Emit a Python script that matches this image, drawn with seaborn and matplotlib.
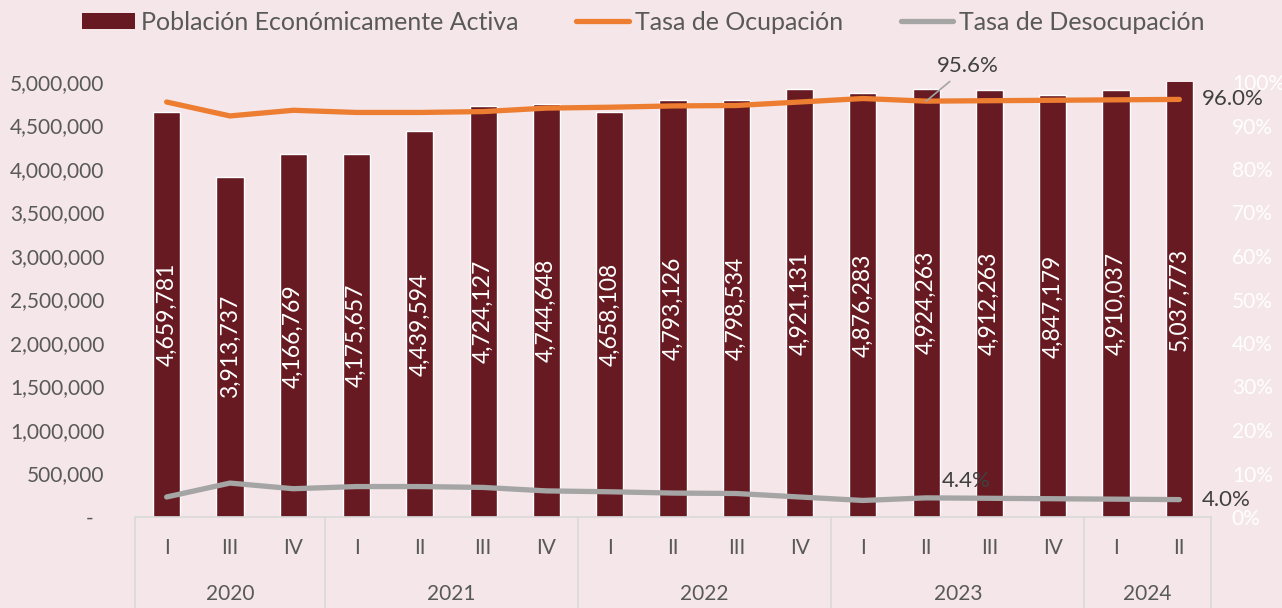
import matplotlib
matplotlib.use("Agg")
from matplotlib import pyplot as plt
from matplotlib import transforms
from matplotlib.lines import Line2D
from matplotlib.patches import Patch
import numpy as np
import pandas as pd
import seaborn as sns


YEARS = ["2020", "2021", "2022", "2023", "2024"]
QUARTERS = [
    ["I", "III", "IV"],
    ["I", "II", "III", "IV"],
    ["I", "II", "III", "IV"],
    ["I", "II", "III", "IV"],
    ["I", "II"],
]
PEA = [4659781, 3913737, 4166769, 4175657, 4439594, 4724127, 4744648, 4658108,
       4793126, 4798534, 4921131, 4876283, 4924263, 4912263, 4847179, 4910037,
       5037773]
TASA_OCUPACION = [95.4, 92.2, 93.5, 93.0, 93.0, 93.2, 94.0, 94.2, 94.5, 94.6,
                  95.4, 96.2, 95.6, 95.7, 95.8, 95.9, 96.0]
TASA_DESOCUPACION = [round(100 - v, 1) for v in TASA_OCUPACION]

BAR_COLOR = "#671a21"
ORANGE = "#ed7d31"
GRAY = "#a5a5a5"
TEXT = "#595959"
LABEL = "#404040"
BG = "#f4e6e9"

sns.set_style("white")
plt.rcParams["font.family"] = ["Lato", "DejaVu Sans"]

labels = [f"{q}-{y}" for y, qs in zip(YEARS, QUARTERS) for q in qs]
df = pd.DataFrame({
    "periodo": labels,
    "pea": PEA,
    "ocup": np.array(TASA_OCUPACION) / 100,
    "desocup": np.array(TASA_DESOCUPACION) / 100,
})
df["pos"] = np.arange(len(df))

W, H = 1282, 608
fig = plt.figure(figsize=(W / 100, H / 100), dpi=100, facecolor=BG)
ax = fig.add_axes([135 / W, 91 / H, 1076 / W, 435 / H])
ax.set_facecolor("none")

sns.barplot(data=df, x="periodo", y="pea", color=BAR_COLOR, width=0.43,
            saturation=1, ax=ax, zorder=2)
ax.set_xlim(-0.5, len(df) - 0.5)
ax.set_ylim(0, 5_000_000)
ax.set_yticks(np.arange(0, 5_000_001, 500_000))
ax.set_yticklabels(["-  "] + [f"{v:,.0f}" for v in np.arange(500_000, 5_000_001, 500_000)])
ax.tick_params(axis="y", length=0, pad=22, labelsize=15, labelcolor=TEXT)
ax.set_xticks([])
ax.set_xlabel("")
ax.set_ylabel("")
for s in ax.spines.values():
    s.set_visible(False)

ax.bar_label(ax.containers[0], labels=[f"{v:,}" for v in PEA], label_type="center",
             rotation=90, color="white", fontsize=16.5)

# two-level category axis
trans = transforms.blended_transform_factory(ax.transData, ax.transAxes)
line_kw = dict(color="#d9d9d9", lw=1.2, transform=trans, clip_on=False)
ax.plot([-0.5, len(df) - 0.5], [0, 0], **line_kw)
start = 0
bounds = [-0.5]
for y, qs in zip(YEARS, QUARTERS):
    for i, q in enumerate(qs):
        ax.text(start + i, -0.071, q, transform=trans, ha="center", va="center",
                fontsize=15, color=TEXT)
    ax.text(start + (len(qs) - 1) / 2, -0.177, y, transform=trans, ha="center",
            va="center", fontsize=15, color=TEXT)
    start += len(qs)
    bounds.append(start - 0.5)
for b in bounds:
    ax.plot([b, b], [0, -0.21], **line_kw)

# rates on secondary axis
ax2 = ax.twinx()
ax2.set_facecolor("none")
sns.lineplot(data=df, x="pos", y="ocup", color=ORANGE, lw=3.8, ax=ax2,
             sort=False, solid_capstyle="round", solid_joinstyle="round", zorder=3)
sns.lineplot(data=df, x="pos", y="desocup", color=GRAY, lw=3.8, ax=ax2,
             sort=False, solid_capstyle="round", solid_joinstyle="round", zorder=3)
ax2.set_ylim(0, 1)
ax2.set_xlim(-0.5, len(df) - 0.5)
ax2.set_yticks(np.arange(0, 1.01, 0.1))
ax2.set_yticklabels([f"{int(round(v * 100))}%" for v in np.arange(0, 1.01, 0.1)])
ax2.tick_params(axis="y", length=0, pad=15, labelsize=15, labelcolor="white")
ax2.set_xlabel("")
ax2.set_ylabel("")
for s in ax2.spines.values():
    s.set_visible(False)

last = len(df) - 1
ax2.annotate(f"{TASA_OCUPACION[12]:.1f}%", xy=(12, df.ocup[12]), xytext=(30, 25),
             textcoords="offset points", ha="center", va="center", fontsize=16,
             color=LABEL, arrowprops=dict(arrowstyle="-", color=GRAY, lw=1.2,
                                          shrinkA=2, shrinkB=0))
ax2.annotate(f"{TASA_DESOCUPACION[12]:.1f}%", xy=(12, df.desocup[12]), xytext=(29, 12),
             textcoords="offset points", ha="center", va="center", fontsize=16,
             color=LABEL)
ax2.annotate(f"{TASA_OCUPACION[last]:.1f}%", xy=(last, df.ocup[last]), xytext=(16, 0),
             textcoords="offset points", ha="left", va="center", fontsize=16,
             color=LABEL)
ax2.annotate(f"{TASA_DESOCUPACION[last]:.1f}%", xy=(last, df.desocup[last]), xytext=(16, 0),
             textcoords="offset points", ha="left", va="center", fontsize=16,
             color=LABEL)

handles = [
    Patch(facecolor=BAR_COLOR, edgecolor="none"),
    Line2D([], [], color=ORANGE, lw=3.8, solid_capstyle="round"),
    Line2D([], [], color=GRAY, lw=3.8, solid_capstyle="round"),
]
names = ["Población Económicamente Activa", "Tasa de Ocupación", "Tasa de Desocupación"]
fig.legend(handles, names, loc="center", bbox_to_anchor=(0.502, 1 - 22 / H), ncol=3,
           frameon=False, fontsize=18, labelcolor=TEXT, handlelength=2.1,
           handleheight=0.6, handletextpad=0.25, columnspacing=2.3)

fig.savefig("out.png", dpi=100, facecolor=BG)
